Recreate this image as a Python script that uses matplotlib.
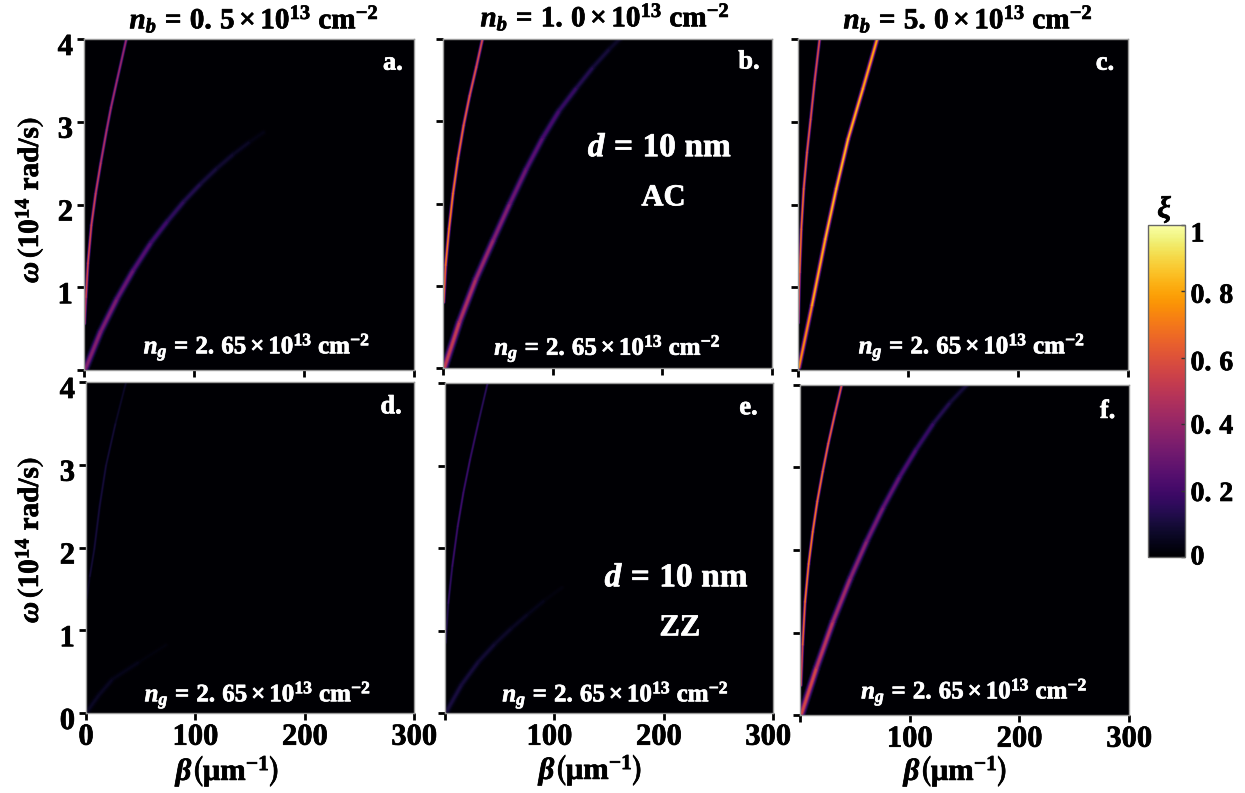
"""
plot.py - coupling maps xi(beta, omega) for AC and ZZ stacks, six panels and a shared colorbar.
"""

import matplotlib
matplotlib.use("Agg")
import matplotlib.pyplot as plt
import numpy as np
from matplotlib.cm import ScalarMappable
from matplotlib.collections import LineCollection
from matplotlib.colors import Normalize
from matplotlib.patheffects import withStroke
from matplotlib.text import Text
from matplotlib.transforms import ScaledTranslation

# ── Data ─────────────────────────────────────────────────────────────────────
# beta in um^-1, omega in 1e14 rad/s, xi is the ridge height at that point

A_UP_BETA = [0.6, 1.8, 3.6, 6.7, 10.6, 15.2, 20.6, 24.5, 30, 38.5]
A_UP_OMEGA = [0.56, 0.88, 1.29, 1.75, 2.13, 2.5, 2.9, 3.17, 3.5, 4.0]
A_UP_XI = [0.42, 0.55, 0.58, 0.56, 0.55, 0.5, 0.46, 0.45, 0.44, 0.4]
A_LOW_BETA = [1.5, 15, 30, 45, 61, 76, 91, 106, 121, 136, 151, 163]
A_LOW_OMEGA = [0.02, 0.46, 0.86, 1.21, 1.54, 1.8, 2.04, 2.25, 2.44, 2.61, 2.76, 2.87]
A_LOW_XI = [0.36, 0.35, 0.31, 0.26, 0.21, 0.17, 0.14, 0.11, 0.09, 0.07, 0.05, 0.02]

B_UP_BETA = [0.6, 2.4, 5.5, 9.1, 13.7, 18.8, 24.3, 30.4, 36]
B_UP_OMEGA = [0.8, 1.25, 1.69, 2.12, 2.55, 2.95, 3.31, 3.66, 4.0]
B_UP_XI = [0.6, 0.7, 0.72, 0.72, 0.68, 0.65, 0.62, 0.6, 0.56]
B_LOW_BETA = [1.5, 15, 30, 46, 61, 76, 91, 106, 122, 137, 152, 161]
B_LOW_OMEGA = [0.01, 0.56, 1.08, 1.56, 2.0, 2.42, 2.8, 3.13, 3.41, 3.66, 3.88, 4.0]
B_LOW_XI = [0.55, 0.48, 0.42, 0.37, 0.32, 0.27, 0.23, 0.19, 0.15, 0.11, 0.08, 0.06]

C_UP_BETA = [0.3, 1.5, 3.0, 5.2, 8.2, 11.5, 15.2, 19.7]
C_UP_OMEGA = [0.57, 1.18, 1.7, 2.19, 2.63, 3.03, 3.5, 4.0]
C_UP_XI = [0.55, 0.66, 0.7, 0.66, 0.64, 0.62, 0.6, 0.58]
C_LOW_BETA = [0.9, 12.7, 24.8, 34.8, 45.5, 59, 72]
C_LOW_OMEGA = [0.03, 0.78, 1.58, 2.19, 2.79, 3.4, 4.0]
C_LOW_XI = [0.7, 0.8, 0.84, 0.84, 0.84, 0.82, 0.8]

D_UP_BETA = [0.6, 3.5, 7.6, 12.5, 18.3, 27, 36.7]
D_UP_OMEGA = [1.38, 1.65, 1.98, 2.5, 2.99, 3.5, 4.0]
D_UP_XI = [0.03, 0.08, 0.1, 0.1, 0.1, 0.08, 0.06]
D_LOW_BETA = [0, 12, 24.4, 49, 73]
D_LOW_OMEGA = [0, 0.22, 0.41, 0.62, 0.82]
D_LOW_XI = [0.06, 0.06, 0.05, 0.03, 0.01]

E_UP_BETA = [0.6, 3, 6.7, 11.6, 16.8, 22.9, 30.5, 39]
E_UP_OMEGA = [0.85, 1.33, 1.78, 2.26, 2.67, 3.07, 3.52, 4.0]
E_UP_XI = [0.1, 0.15, 0.18, 0.2, 0.2, 0.19, 0.17, 0.14]
E_LOW_BETA = [1.5, 15, 30.5, 45.8, 61, 76, 91.5, 107]
E_LOW_OMEGA = [0.02, 0.34, 0.62, 0.84, 1.03, 1.2, 1.37, 1.52]
E_LOW_XI = [0.11, 0.1, 0.09, 0.08, 0.06, 0.05, 0.03, 0.015]

F_UP_BETA = [0.9, 2.4, 4.6, 7.9, 11.6, 15.8, 20.7, 25.8, 32, 38]
F_UP_OMEGA = [0.36, 0.85, 1.37, 1.83, 2.22, 2.59, 2.95, 3.29, 3.66, 4.0]
F_UP_XI = [0.5, 0.62, 0.7, 0.72, 0.72, 0.7, 0.68, 0.66, 0.64, 0.6]
F_LOW_BETA = [1.5, 15, 30, 46, 61, 76, 91, 106, 122, 137, 152]
F_LOW_OMEGA = [0.02, 0.57, 1.13, 1.66, 2.11, 2.52, 2.89, 3.22, 3.54, 3.79, 4.0]
F_LOW_XI = [0.6, 0.52, 0.45, 0.39, 0.34, 0.29, 0.25, 0.2, 0.15, 0.11, 0.08]

CARRIER_LABELS = ["0.5", "1.0", "5.0"]
PANEL_LABELS = ["a.", "b.", "c.", "d.", "e.", "f."]
X_TICKS = [0, 100, 200, 300]
Y_TICKS = [0, 1, 2, 3, 4]
CBAR_TICKS = [0, 0.2, 0.4, 0.6, 0.8, 1]
CBAR_LABELS = ["0", r"$0.\,2$", r"$0.\,4$", r"$0.\,6$", r"$0.\,8$", "1"]

# ── Layout, in pixels of the 1245x793 canvas ─────────────────────────────────

W, H, DPI = 1245, 793, 100
AXES_PX = [
    (84, 39, 414, 370), (443, 39, 772, 368), (798, 39, 1128, 370),
    (86, 382, 414, 713), (445, 383, 773, 713), (800, 385, 1129, 715),
]
CBAR_PX = (1148, 225, 1185, 557)
CBAR_LABEL_DY = [2, -1, 0, -3, -2, -7]
NG_POS = [(0.524, 0.07), (0.50, 0.06), (0.527, 0.07), (0.524, 0.055), (0.52, 0.055), (0.53, 0.07)]
LETTER_POS = [(0.936, 0.927), (0.93, 0.93), (0.93, 0.927), (0.93, 0.925), (0.925, 0.925), (0.935, 0.92)]
TITLE_CENTERS = [(254, 19), (605, 17), (968, 19)]
XLABEL_CENTERS = [(228, 771), (591, 770), (956, 771)]
YLABEL_CENTERS = [(29, 200), (29, 540)]

plt.rcParams["font.family"] = ["Liberation Serif", "DejaVu Serif"]
plt.rcParams["font.weight"] = "bold"
plt.rcParams["mathtext.fontset"] = "custom"
plt.rcParams["mathtext.rm"] = "Liberation Serif:bold"
plt.rcParams["mathtext.it"] = "Liberation Serif:italic:bold"
plt.rcParams["mathtext.bf"] = "Liberation Serif:bold"
plt.rcParams["mathtext.fallback"] = "stix"

CMAP = plt.get_cmap("inferno")
NORM = Normalize(0, 1)

# each stroke is several layers so the ridge fades out like the blurred map
GLOW_LAYERS = [(2.4, 0.12), (1.9, 0.28), (1.4, 0.5), (1.0, 0.78), (0.55, 1.0)]


def px_rect(box):
    left, top, right, bottom = box
    return [left / W, 1 - bottom / H, (right - left) / W, (bottom - top) / H]


def fig_text(fig, center, text, **kwargs):
    fig.text(center[0] / W, 1 - center[1] / H, text, ha="center", va="center", **kwargs)


def draw_ridge(ax, beta, omega, xi, width):
    """Draw one ridge as coloured segments through the listed points."""
    pts = np.column_stack([beta, omega])
    segs = np.stack([pts[:-1], pts[1:]], axis=1)
    xi_seg = (np.array(xi[:-1]) + np.array(xi[1:])) / 2
    for mult, frac in GLOW_LAYERS:
        ax.add_collection(LineCollection(
            segs, colors=CMAP(NORM(xi_seg * frac)), linewidths=width * mult, capstyle="round",
        ))


def shift_label(lab, dx, dy, fig):
    lab.set_transform(lab.get_transform() + ScaledTranslation(dx / DPI, dy / DPI, fig.dpi_scale_trans))


fig = plt.figure(figsize=(W / DPI, H / DPI), dpi=DPI, facecolor="white")

ridges = [
    ((A_UP_BETA, A_UP_OMEGA, A_UP_XI, 1.2), (A_LOW_BETA, A_LOW_OMEGA, A_LOW_XI, 2.8)),
    ((B_UP_BETA, B_UP_OMEGA, B_UP_XI, 1.3), (B_LOW_BETA, B_LOW_OMEGA, B_LOW_XI, 2.8)),
    ((C_UP_BETA, C_UP_OMEGA, C_UP_XI, 1.2), (C_LOW_BETA, C_LOW_OMEGA, C_LOW_XI, 1.7)),
    ((D_UP_BETA, D_UP_OMEGA, D_UP_XI, 1.2), (D_LOW_BETA, D_LOW_OMEGA, D_LOW_XI, 2.8)),
    ((E_UP_BETA, E_UP_OMEGA, E_UP_XI, 1.1), (E_LOW_BETA, E_LOW_OMEGA, E_LOW_XI, 2.8)),
    ((F_UP_BETA, F_UP_OMEGA, F_UP_XI, 1.2), (F_LOW_BETA, F_LOW_OMEGA, F_LOW_XI, 2.7)),
]

for i, box in enumerate(AXES_PX):
    ax = fig.add_axes(px_rect(box), facecolor=CMAP(0.0))
    ax.set_xlim(0, 300)
    ax.set_ylim(0, 4)
    for beta, omega, xi, width in ridges[i]:
        draw_ridge(ax, beta, omega, xi, width)

    ax.set_xticks(X_TICKS)
    ax.set_yticks(Y_TICKS)
    ax.tick_params(axis="both", length=5, width=2, color="black", labelsize=22, pad=3)
    ax.tick_params(axis="x", pad=2)
    for spine in ax.spines.values():
        spine.set_color("#9a9a9a")
        spine.set_linewidth(1)

    # tick labels: top row none on x, only the left column on y, 0 only on panels a and d
    if i < 3:
        ax.set_xticklabels([])
    else:
        ax.set_xticklabels([str(t) if (t > 0 or i == 3) else "" for t in X_TICKS])
        if i == 4:
            for lab in ax.get_xticklabels():
                shift_label(lab, -5, 0, fig)
    if i in (0, 3):
        ax.set_yticklabels(["" if (t == 0 and i == 0) else str(t) for t in Y_TICKS])
        for lab in ax.get_yticklabels():
            shift_label(lab, 0, -5, fig)
    else:
        ax.set_yticklabels([])

    ax.text(NG_POS[i][0], NG_POS[i][1],
            r"$n_g\,=\,2.\,65\times10^{13}\ \mathrm{cm}^{-2}$",
            transform=ax.transAxes, color="white", fontsize=18, ha="center", va="center")
    ax.text(LETTER_POS[i][0], LETTER_POS[i][1], PANEL_LABELS[i],
            transform=ax.transAxes, color="white", fontsize=19, ha="center", va="center")

    if i == 1:
        ax.text(0.66, 0.669, r"$d\,=\,10\ \mathrm{nm}$", transform=ax.transAxes,
                color="white", fontsize=24, ha="center", va="center")
        ax.text(0.67, 0.517, "AC", transform=ax.transAxes,
                color="white", fontsize=22, ha="center", va="center")
    if i == 4:
        ax.text(0.707, 0.409, r"$d\,=\,10\ \mathrm{nm}$", transform=ax.transAxes,
                color="white", fontsize=24, ha="center", va="center")
        ax.text(0.716, 0.258, "ZZ", transform=ax.transAxes,
                color="white", fontsize=22, ha="center", va="center")

for center, carrier in zip(TITLE_CENTERS, CARRIER_LABELS):
    whole, frac = carrier.split(".")
    fig_text(fig, center, rf"$n_b\,=\,{whole}.\,{frac}\times10^{{13}}\ \mathrm{{cm}}^{{-2}}$", fontsize=21)
for center in XLABEL_CENTERS:
    fig_text(fig, center, r"$\beta\left(\mathrm{\mu m}^{-1}\right)$", fontsize=22)
for center in YLABEL_CENTERS:
    fig_text(fig, center, r"$\omega\,\left(10^{14}\ \mathrm{rad/s}\right)$", fontsize=21, rotation=90)

# Colorbar
cax = fig.add_axes(px_rect(CBAR_PX))
cbar = fig.colorbar(ScalarMappable(norm=NORM, cmap=CMAP), cax=cax)
cbar.set_ticks(CBAR_TICKS)
cbar.set_ticklabels(CBAR_LABELS)
cbar.ax.tick_params(direction="in", length=3, width=1, color="#333333", labelsize=20, pad=4)
cbar.outline.set_edgecolor("#666666")
cbar.outline.set_linewidth(1)
for lab, dy in zip(cbar.ax.get_yticklabels(), CBAR_LABEL_DY):
    shift_label(lab, 0, dy, fig)
fig_text(fig, (1165, 209), r"$\xi$", fontsize=22)

# Liberation bold is lighter than the reference face, thicken it a little
for txt in fig.findobj(Text):
    txt.set_path_effects([withStroke(linewidth=0.5, foreground=txt.get_color())])

fig.savefig("out.png", dpi=DPI)
plt.close(fig)
